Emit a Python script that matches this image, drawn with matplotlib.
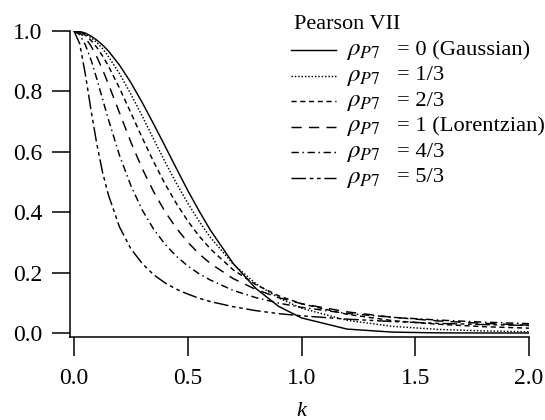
import matplotlib
matplotlib.use("Agg")
import matplotlib.pyplot as plt
from matplotlib.lines import Line2D

plt.rcParams["font.family"] = ["Liberation Serif", "DejaVu Serif"]
plt.rcParams["mathtext.fontset"] = "stix"

# values
k = [0, 0.025, 0.05, 0.075, 0.1, 0.125, 0.15, 0.2, 0.25, 0.3, 0.35, 0.4, 0.45,
     0.5, 0.55, 0.6, 0.7, 0.8, 0.9, 1.0, 1.2, 1.4, 1.6, 1.8, 2.0]

gauss = [1.0, 0.998, 0.993, 0.983, 0.970, 0.954, 0.935, 0.887, 0.829, 0.763, 0.692,
         0.619, 0.545, 0.472, 0.404, 0.340, 0.230, 0.147, 0.088, 0.050, 0.013,
         0.003, 0.0005, 0.0001, 0.0]
rho_1_3 = [1.0, 0.998, 0.990, 0.978, 0.962, 0.942, 0.917, 0.859, 0.791, 0.718, 0.642,
           0.567, 0.496, 0.430, 0.370, 0.316, 0.228, 0.163, 0.116, 0.082, 0.042,
           0.022, 0.012, 0.007, 0.004]
rho_2_3 = [1.0, 0.997, 0.986, 0.969, 0.946, 0.918, 0.886, 0.811, 0.729, 0.646, 0.567,
           0.494, 0.429, 0.371, 0.321, 0.278, 0.209, 0.160, 0.123, 0.097, 0.062,
           0.041, 0.029, 0.021, 0.016]
lorentz = [1.0, 0.994, 0.977, 0.950, 0.915, 0.873, 0.827, 0.729, 0.632, 0.544, 0.468,
           0.402, 0.347, 0.301, 0.262, 0.230, 0.180, 0.144, 0.117, 0.097, 0.070,
           0.052, 0.040, 0.032, 0.026]
rho_4_3 = [1.0, 0.988, 0.954, 0.904, 0.842, 0.776, 0.710, 0.588, 0.488, 0.407, 0.344,
           0.294, 0.254, 0.222, 0.196, 0.175, 0.141, 0.117, 0.099, 0.085, 0.065,
           0.052, 0.043, 0.036, 0.031]
rho_5_3 = [1.0, 0.958, 0.856, 0.737, 0.627, 0.534, 0.460, 0.351, 0.279, 0.230, 0.193,
           0.166, 0.145, 0.129, 0.115, 0.104, 0.087, 0.074, 0.064, 0.057, 0.046,
           0.038, 0.032, 0.028, 0.025]

series = [gauss, rho_1_3, rho_2_3, lorentz, rho_4_3, rho_5_3]
labels = ["= 0 (Gaussian)", "= 1/3", "= 2/3", "= 1 (Lorentzian)", "= 4/3", "= 5/3"]
legend_title = "Pearson VII"
styles = ["-", (0, (1, 1.3)), (0, (3.5, 2.5)), (0, (7, 5)),
          (0, (5, 2.5, 1, 2.5)), (0, (10, 2.5, 2.5, 2.5, 2.5, 2.5))]

xticks = [0, 0.5, 1.0, 1.5, 2.0]
xtick_labels = ["0.0", "0.5", "1.0", "1.5", "2.0"]
yticks = [0, 0.2, 0.4, 0.6, 0.8, 1.0]
ytick_labels = ["0.0", "0.2", "0.4", "0.6", "0.8", "1.0"]

W, H = 545, 420
fig = plt.figure(figsize=(W / 100, H / 100), dpi=100)
ax = fig.add_axes([70 / W, 83 / H, 459 / W, 306 / H])

for y, ls in zip(series, styles):
    ax.plot(k, y, color="black", lw=1.05, linestyle=ls)

ax.set_xlim(-0.0176, 2.0)
ax.set_ylim(-0.0132, 1.0)
ax.set_xticks(xticks)
ax.set_xticklabels(xtick_labels)
ax.set_yticks(yticks)
ax.set_yticklabels(ytick_labels)

for s in ["top", "right"]:
    ax.spines[s].set_visible(False)
for s in ["left", "bottom"]:
    ax.spines[s].set_linewidth(1.1)
ax.tick_params(axis="y", direction="out", length=13, width=1.1, labelsize=17, pad=7)
ax.tick_params(axis="x", direction="out", length=14, width=1.1, labelsize=17, pad=8)

ax.set_xlabel("k", fontsize=16, style="italic")
ax.xaxis.set_label_coords(0.504, -0.212)

# hand-placed legend (figure pixels, top-down)
fig.text(294 / W, 1 - 29 / H, legend_title, fontsize=16, va="baseline")
for i, (lab, ls) in enumerate(zip(labels, styles)):
    yy = 50 + 25.5 * i
    fig.add_artist(Line2D([291 / W, 336 / W], [1 - yy / H] * 2, transform=fig.transFigure,
                          color="black", lw=1.05, linestyle=ls))
    fig.text(346 / W, 1 - (yy + 5) / H, r"$\rho_{\mathit{P7}}$", fontsize=18, va="baseline")
    fig.text(397 / W, 1 - (yy + 5) / H, lab, fontsize=16.2, va="baseline")

fig.savefig("out.png", dpi=100, facecolor="white")
